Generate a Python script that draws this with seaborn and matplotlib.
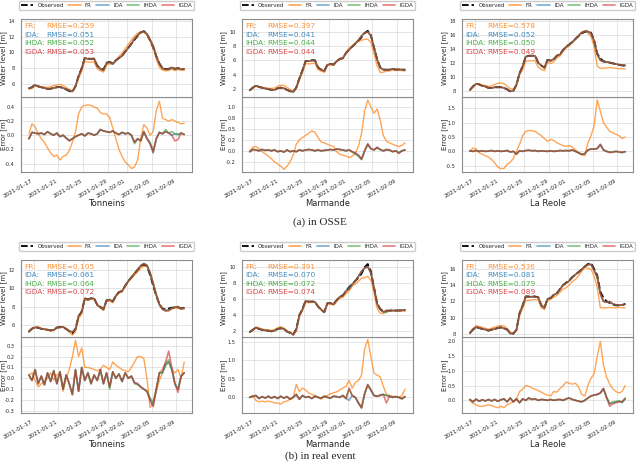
import numpy as np
import pandas as pd
import seaborn as sns
import matplotlib.pyplot as plt
import matplotlib.dates as mdates
from matplotlib.ticker import MultipleLocator, FormatStrFormatter
from matplotlib.lines import Line2D

#%% style
sns.set_style("whitegrid", {'axes.edgecolor': '0.55', 'grid.color': '0.88'})
plt.rcParams['font.family'] = ['DejaVu Sans']
plt.rcParams['axes.unicode_minus'] = False

#%% data (12-hourly samples)
times = pd.date_range('2021-01-16 06:00', periods=51, freq='12h')
models = ['FR', 'IDA', 'IHDA', 'IGDA']
colors = {'FR': '#ff7f0e', 'IDA': '#1f77b4', 'IHDA': '#2ca02c', 'IGDA': '#d62728'}

# ---- OSSE ----
tonneins_osse_obs = [5.4, 5.6, 5.9, 5.7, 5.6, 5.5, 5.4, 5.4, 5.5, 5.6, 5.6, 5.5, 5.3, 5.1, 5.0, 5.7, 7.0, 8.0, 9.3, 9.2,
                     9.2, 9.2, 8.3, 8.0, 7.8, 8.7, 8.8, 8.6, 9.0, 9.3, 9.6, 10.1, 10.6, 11.1, 11.6, 12.1, 12.5, 12.7, 12.3, 11.5,
                     10.6, 9.5, 8.6, 8.0, 7.9, 7.9, 8.1, 7.9, 8.0, 7.9, 7.9]
tonneins_osse_fr = [0.02, 0.16, 0.12, 0.02, -0.05, -0.1, -0.18, -0.25, -0.3, -0.28, -0.35, -0.3, -0.28, -0.22, -0.1, 0.05, 0.3, 0.4, 0.42, 0.43,
                    0.42, 0.4, 0.38, 0.32, 0.3, 0.3, 0.25, 0.1, -0.05, -0.2, -0.3, -0.38, -0.42, -0.47, -0.45, -0.35, -0.05, 0.15, 0.1, 0.0,
                    0.05, 0.35, 0.48, 0.24, 0.22, 0.2, 0.22, 0.2, 0.18, 0.16, 0.17]
tonneins_osse_ida = [-0.05, 0.04, 0.03, 0.02, 0.03, 0.01, 0.05, 0.02, 0.0, 0.03, -0.02, 0.0, -0.04, -0.08, -0.05, -0.02, 0.0, 0.02, -0.01, 0.03,
                     0.02, 0.0, 0.02, 0.08, 0.06, 0.05, 0.04, 0.06, 0.03, 0.01, 0.04, 0.02, 0.03, 0.0, -0.1, -0.05, -0.08, 0.05, -0.05, -0.12,
                     -0.25, -0.05, 0.04, 0.02, 0.05, 0.03, 0.0, 0.02, 0.01, 0.03, 0.01]
tonneins_osse_ihda = [-0.05, 0.04, 0.03, 0.02, 0.03, 0.01, 0.05, 0.02, 0.0, 0.03, -0.02, 0.0, -0.04, -0.07, -0.05, -0.02, 0.0, 0.02, -0.01, 0.03,
                      0.02, 0.0, 0.02, 0.08, 0.06, 0.05, 0.04, 0.06, 0.03, 0.01, 0.04, 0.02, 0.03, 0.0, -0.12, -0.05, -0.08, 0.05, -0.04, -0.1,
                      -0.22, -0.05, 0.04, 0.02, 0.08, 0.03, 0.05, 0.02, 0.01, 0.03, 0.01]
tonneins_osse_igda = [-0.05, 0.04, 0.03, 0.02, 0.03, 0.01, 0.05, 0.02, 0.0, 0.03, -0.02, 0.0, -0.04, -0.08, -0.05, -0.02, 0.0, 0.02, -0.01, 0.03,
                      0.02, 0.0, 0.02, 0.08, 0.06, 0.05, 0.04, 0.06, 0.03, 0.01, 0.04, 0.02, 0.03, 0.0, -0.1, -0.05, -0.08, 0.05, -0.05, -0.12,
                      -0.24, -0.05, 0.04, 0.02, 0.05, 0.03, 0.0, -0.08, -0.06, 0.03, 0.01]

marmande_osse_obs = [1.8, 2.2, 2.5, 2.3, 2.2, 2.1, 2.0, 1.9, 1.9, 2.1, 2.2, 2.1, 1.9, 1.7, 1.6, 2.2, 3.5, 4.6, 5.9, 5.9,
                     6.0, 6.0, 5.0, 4.7, 4.5, 5.4, 5.5, 5.4, 5.9, 6.2, 6.3, 7.0, 7.5, 7.9, 8.3, 8.7, 9.2, 9.8, 10.1, 9.5,
                     7.8, 6.2, 5.0, 4.7, 4.7, 4.7, 4.8, 4.7, 4.7, 4.7, 4.7]
marmande_osse_fr = [0.0, 0.08, 0.1, 0.05, -0.02, -0.07, -0.12, -0.18, -0.25, -0.3, -0.35, -0.42, -0.35, -0.25, -0.1, 0.15, 0.25, 0.3, 0.35, 0.4,
                    0.45, 0.42, 0.3, 0.2, 0.18, 0.15, 0.12, 0.1, -0.02, -0.08, -0.1, -0.12, -0.15, -0.12, -0.05, 0.1, 0.4, 0.9, 1.15, 1.0,
                    0.85, 0.95, 0.7, 0.35, 0.22, 0.18, 0.15, 0.12, 0.1, 0.12, 0.18]
marmande_osse_ida = [-0.02, 0.03, 0.02, 0.0, 0.03, 0.01, 0.02, 0.0, 0.02, -0.02, 0.0, -0.03, 0.02, -0.02, 0.0, -0.02, 0.02, 0.0, 0.02, 0.03,
                     0.02, 0.0, 0.02, 0.0, 0.01, 0.02, 0.03, 0.02, 0.04, 0.03, 0.02, 0.0, 0.02, -0.02, -0.05, -0.1, -0.18, 0.0, 0.15, 0.05,
                     0.02, 0.08, 0.03, 0.0, 0.02, 0.02, -0.02, 0.0, -0.05, 0.0, 0.02]
marmande_osse_ihda = [-0.02, 0.03, 0.02, 0.0, 0.03, 0.01, 0.02, 0.0, 0.02, -0.02, 0.0, -0.03, 0.02, -0.02, 0.0, -0.02, 0.02, 0.0, 0.02, 0.03,
                      0.02, 0.0, 0.02, 0.0, 0.01, 0.02, 0.03, 0.02, 0.04, 0.03, 0.02, 0.0, 0.02, -0.03, -0.08, -0.12, -0.2, 0.0, 0.14, 0.05,
                      0.02, 0.06, 0.03, 0.0, 0.04, 0.02, -0.02, 0.0, -0.04, 0.0, 0.02]
marmande_osse_igda = [-0.02, 0.03, 0.02, 0.0, 0.03, 0.01, 0.02, 0.0, 0.02, -0.02, 0.0, -0.03, 0.02, -0.02, 0.0, -0.02, 0.02, 0.0, 0.02, 0.03,
                      0.02, 0.0, 0.02, 0.0, 0.01, 0.02, 0.03, 0.02, 0.04, 0.03, 0.02, 0.0, 0.02, -0.02, -0.05, -0.1, -0.19, 0.0, 0.16, 0.05,
                      0.02, 0.08, 0.03, 0.0, 0.02, 0.02, -0.02, 0.0, -0.06, 0.0, 0.02]

lareole_osse_obs = [8.1, 8.6, 9.0, 8.9, 8.7, 8.6, 8.4, 8.4, 8.5, 8.5, 8.5, 8.4, 8.2, 7.9, 8.0, 8.8, 10.5, 11.5, 12.9, 13.0,
                    13.0, 13.0, 12.0, 11.6, 11.3, 12.4, 12.3, 12.5, 13.0, 13.2, 13.8, 14.3, 14.6, 15.0, 15.4, 15.8, 16.2, 16.4, 16.5, 16.3,
                    15.2, 13.3, 12.6, 12.2, 12.1, 12.0, 11.9, 11.8, 11.7, 11.6, 11.6]
lareole_osse_fr = [0.0, 0.12, 0.08, -0.05, -0.1, -0.15, -0.2, -0.28, -0.4, -0.55, -0.6, -0.6, -0.45, -0.38, -0.25, 0.0, 0.25, 0.55, 0.7, 0.73,
                   0.72, 0.7, 0.62, 0.55, 0.45, 0.35, 0.42, 0.38, 0.3, 0.25, 0.2, 0.18, 0.2, 0.15, 0.05, -0.05, -0.12, -0.15, 0.3, 0.55,
                   0.9, 1.8, 1.4, 1.0, 0.85, 0.7, 0.65, 0.6, 0.55, 0.45, 0.5]
lareole_osse_ida = [0.02, 0.0, 0.03, 0.0, 0.02, 0.0, 0.01, 0.03, 0.0, 0.02, 0.0, 0.01, 0.03, -0.02, 0.0, -0.1, 0.02, 0.0, 0.03, 0.04,
                    0.02, 0.03, 0.0, 0.02, 0.01, 0.0, 0.02, 0.0, 0.01, 0.03, 0.02, 0.03, 0.02, 0.05, 0.0, -0.05, -0.1, -0.08, 0.05, 0.08,
                    0.08, 0.1, 0.25, 0.05, 0.0, -0.03, -0.02, 0.0, -0.02, -0.05, -0.01]
lareole_osse_ihda = [0.02, 0.0, 0.03, 0.0, 0.02, 0.0, 0.01, 0.03, 0.0, 0.02, 0.0, 0.01, 0.03, -0.02, 0.0, -0.08, 0.02, 0.0, 0.03, 0.04,
                     0.02, 0.03, 0.0, 0.02, 0.01, 0.0, 0.02, 0.0, 0.01, 0.03, 0.02, 0.03, 0.02, 0.05, 0.0, -0.05, -0.1, -0.08, 0.05, 0.08,
                     0.08, 0.1, 0.22, 0.05, 0.0, -0.02, -0.02, 0.0, -0.02, -0.03, -0.01]
lareole_osse_igda = [0.02, 0.0, 0.03, 0.0, 0.02, 0.0, 0.01, 0.03, 0.0, 0.02, 0.0, 0.01, 0.03, -0.02, 0.0, -0.1, 0.02, 0.0, 0.03, 0.04,
                     0.02, 0.03, 0.0, 0.02, 0.01, 0.0, 0.02, 0.0, 0.01, 0.03, 0.02, 0.03, 0.02, 0.05, 0.0, -0.05, -0.11, -0.08, 0.05, 0.08,
                     0.08, 0.1, 0.24, 0.05, 0.0, -0.04, -0.03, 0.0, -0.02, -0.03, -0.01]

# ---- real event ----
tonneins_real_obs = [5.3, 5.6, 5.8, 5.7, 5.6, 5.5, 5.5, 5.4, 5.5, 5.7, 5.8, 5.7, 5.6, 5.3, 5.1, 5.6, 6.9, 7.5, 8.9, 8.8,
                     8.9, 8.9, 8.2, 8.0, 7.7, 8.7, 8.7, 8.6, 9.2, 9.6, 9.7, 10.3, 10.8, 11.2, 11.6, 12.0, 12.4, 12.6, 12.4, 11.5,
                     10.3, 9.2, 8.3, 7.8, 7.7, 7.8, 7.9, 7.9, 7.9, 7.8, 7.9]
tonneins_real_fr = [0.03, 0.05, -0.02, -0.08, -0.05, -0.03, 0.0, 0.05, -0.02, 0.03, 0.05, -0.12, 0.0, 0.08, 0.2, 0.35, 0.2, 0.28, 0.1, 0.1,
                    0.09, 0.08, 0.07, 0.08, 0.12, 0.1, 0.08, 0.15, 0.12, 0.1, 0.08, 0.07, 0.06, 0.1, 0.15, 0.2, 0.2, 0.18, 0.0, -0.27,
                    -0.22, -0.12, -0.02, 0.05, 0.12, 0.15, 0.08, 0.05, 0.08, 0.0, 0.15]
tonneins_real_ida = [0.03, -0.02, 0.08, -0.05, 0.02, -0.06, 0.05, -0.03, 0.07, -0.05, 0.06, -0.1, 0.03, -0.05, -0.15, 0.08, -0.12, 0.1, -0.02, 0.05,
                     -0.05, 0.03, -0.02, 0.08, -0.05, 0.05, -0.08, 0.06, 0.0, 0.04, -0.03, 0.05, 0.0, 0.02, -0.04, -0.05, -0.08, -0.1, -0.12, -0.2,
                     -0.25, -0.1, 0.05, 0.05, 0.12, 0.15, 0.08, -0.05, -0.1, 0.02, 0.05]
tonneins_real_ihda = [0.03, -0.02, 0.08, -0.05, 0.02, -0.06, 0.05, -0.03, 0.07, -0.05, 0.06, -0.1, 0.03, -0.05, -0.15, 0.08, -0.12, 0.1, -0.02, 0.05,
                      -0.05, 0.03, -0.02, 0.08, -0.05, 0.05, -0.1, 0.06, 0.0, 0.04, -0.03, 0.05, 0.0, 0.02, -0.05, -0.06, -0.08, -0.1, -0.12, -0.18,
                      -0.22, -0.1, 0.05, 0.05, 0.14, 0.17, 0.08, -0.05, -0.1, 0.02, 0.05]
tonneins_real_igda = [0.03, -0.02, 0.08, -0.05, 0.02, -0.06, 0.05, -0.03, 0.07, -0.05, 0.06, -0.1, 0.03, -0.05, -0.15, 0.08, -0.12, 0.1, -0.02, 0.05,
                      -0.05, 0.03, -0.02, 0.08, -0.05, 0.05, -0.08, 0.06, 0.0, 0.04, -0.03, 0.05, 0.0, 0.02, -0.04, -0.05, -0.08, -0.1, -0.12, -0.2,
                      -0.26, -0.1, 0.05, 0.08, 0.15, 0.25, 0.1, -0.05, -0.13, 0.02, 0.05]

marmande_real_obs = [1.9, 2.2, 2.5, 2.3, 2.2, 2.1, 2.1, 2.0, 2.1, 2.3, 2.4, 2.3, 2.0, 1.8, 1.6, 2.3, 4.0, 4.8, 5.8, 5.7,
                     5.7, 5.7, 5.1, 4.7, 4.4, 5.5, 5.5, 5.4, 5.9, 6.3, 6.5, 7.0, 7.5, 7.9, 8.3, 8.7, 9.2, 10.0, 10.4, 9.5,
                     7.5, 5.5, 4.8, 4.5, 4.5, 4.6, 4.6, 4.6, 4.6, 4.6, 4.7]
marmande_real_fr = [0.0, 0.05, -0.08, -0.12, -0.1, -0.12, -0.1, -0.12, -0.15, -0.15, -0.18, -0.12, -0.1, -0.05, 0.0, 0.35, 0.15, 0.25, 0.2, 0.12,
                    0.08, 0.05, 0.0, -0.05, 0.02, 0.05, 0.1, 0.12, 0.15, 0.2, 0.25, 0.3, 0.45, 0.25, 0.4, 0.45, 0.6, 1.3, 1.55, 1.1,
                    0.65, 0.6, 0.55, 0.3, 0.08, 0.05, 0.03, 0.02, 0.0, 0.05, 0.22]
marmande_real_ida = [0.0, 0.03, 0.05, -0.03, 0.02, -0.02, 0.03, -0.02, 0.02, -0.03, 0.03, -0.02, 0.02, -0.05, 0.0, 0.08, -0.05, 0.05, 0.0, 0.02,
                     -0.03, 0.03, 0.0, -0.02, 0.03, 0.0, -0.02, 0.03, 0.02, 0.0, 0.05, -0.03, -0.08, 0.05, 0.0, -0.15, -0.28, 0.1, 0.33, 0.2,
                     0.05, 0.03, 0.05, 0.08, 0.05, 0.03, 0.0, 0.02, 0.0, -0.03, 0.02]
marmande_real_ihda = [0.0, 0.03, 0.05, -0.03, 0.02, -0.02, 0.03, -0.02, 0.02, -0.03, 0.03, -0.02, 0.02, -0.05, 0.0, 0.08, -0.05, 0.05, 0.0, 0.02,
                      -0.03, 0.03, 0.0, -0.02, 0.03, 0.0, -0.02, 0.03, 0.02, 0.0, 0.05, -0.03, 0.22, 0.05, 0.0, -0.15, -0.27, 0.1, 0.33, 0.2,
                      0.05, 0.03, 0.07, 0.08, 0.05, 0.03, 0.0, 0.02, 0.0, -0.05, 0.02]
marmande_real_igda = [0.0, 0.03, 0.05, -0.03, 0.02, -0.02, 0.03, -0.02, 0.02, -0.03, 0.03, -0.02, 0.02, -0.05, 0.0, 0.08, -0.05, 0.05, 0.0, 0.02,
                      -0.03, 0.03, 0.0, -0.02, 0.03, 0.0, -0.02, 0.03, 0.02, 0.0, 0.05, -0.03, 0.25, 0.05, 0.0, -0.15, -0.29, 0.1, 0.35, 0.2,
                      0.05, 0.03, 0.05, 0.08, -0.15, 0.03, 0.0, 0.02, 0.0, -0.03, 0.02]

lareole_real_obs = [8.1, 8.5, 8.85, 8.7, 8.6, 8.5, 8.4, 8.5, 8.6, 8.7, 8.8, 8.7, 8.5, 8.1, 8.0, 8.5, 10.5, 11.5, 12.6, 12.6,
                    12.6, 12.6, 12.5, 11.5, 11.2, 12.3, 12.4, 12.8, 13.0, 13.5, 14.0, 14.3, 14.6, 15.0, 15.3, 15.6, 15.9, 16.3, 16.6, 16.7,
                    16.0, 15.2, 13.2, 12.4, 12.0, 11.8, 11.6, 11.5, 11.5, 11.5, 11.7]
lareole_real_fr = [0.0, -0.1, -0.15, -0.2, -0.2, -0.18, -0.15, -0.18, -0.22, -0.25, -0.2, -0.25, -0.15, -0.1, -0.05, 0.05, 0.3, 0.38, 0.5, 0.48,
                   0.42, 0.38, 0.33, 0.28, 0.22, 0.18, 0.15, 0.3, 0.28, 0.4, 0.5, 0.62, 0.58, 0.55, 0.58, 0.45, 0.2, 0.15, 0.5, 0.75,
                   0.9, 1.5, 2.0, 1.2, 0.8, 0.55, 0.4, 0.3, 0.25, 0.3, 0.5]
lareole_real_ida = [0.03, -0.05, 0.04, -0.03, 0.02, -0.02, 0.03, -0.02, 0.03, -0.03, 0.02, 0.05, -0.05, 0.08, -0.05, 0.05, -0.08, 0.05, 0.0, 0.08,
                    0.03, 0.05, 0.0, 0.03, 0.02, 0.0, 0.03, 0.0, 0.02, 0.03, 0.0, 0.05, 0.08, 0.03, 0.0, -0.03, -0.05, 0.0, 0.08, 0.15,
                    0.18, 0.2, 0.25, 0.4, 0.1, -0.12, -0.08, -0.06, -0.03, -0.08, 0.05]
lareole_real_ihda = [0.03, -0.05, 0.04, -0.03, 0.02, -0.02, 0.03, -0.02, 0.03, -0.03, 0.02, 0.05, -0.05, 0.08, -0.05, 0.05, -0.08, 0.05, 0.0, 0.08,
                     0.03, 0.05, 0.0, 0.03, 0.02, 0.0, 0.03, 0.0, 0.02, 0.03, 0.0, 0.05, 0.08, 0.03, 0.0, -0.03, -0.05, 0.0, 0.08, 0.15,
                     0.18, 0.2, 0.25, 0.4, 0.1, -0.1, -0.06, -0.04, -0.02, -0.05, 0.08]
lareole_real_igda = [0.03, -0.05, 0.04, -0.03, 0.02, -0.02, 0.03, -0.02, 0.03, -0.03, 0.02, 0.05, -0.05, 0.08, -0.05, 0.05, -0.08, 0.05, 0.0, 0.08,
                     0.03, 0.05, 0.0, 0.03, 0.02, 0.0, 0.03, 0.0, 0.02, 0.03, 0.0, 0.05, 0.08, 0.03, 0.0, -0.03, -0.05, 0.0, 0.08, 0.15,
                     0.18, 0.2, 0.25, 0.4, 0.1, -0.2, -0.12, -0.08, -0.05, -0.05, 0.05]

rmse_osse = {'Tonneins': [0.259, 0.051, 0.052, 0.053],
             'Marmande': [0.397, 0.041, 0.044, 0.044],
             'La Reole': [0.578, 0.052, 0.050, 0.049]}
rmse_real = {'Tonneins': [0.105, 0.061, 0.064, 0.072],
             'Marmande': [0.391, 0.070, 0.072, 0.074],
             'La Reole': [0.536, 0.081, 0.079, 0.089]}

# row, col, station, observed, errors, rmse, water-level ylim, error ylim, error tick step
panels = [
    (0, 0, 'Tonneins', tonneins_osse_obs, [tonneins_osse_fr, tonneins_osse_ida, tonneins_osse_ihda, tonneins_osse_igda],
     rmse_osse['Tonneins'], (4.35, 14.2), (-0.52, 0.54), 0.2),
    (0, 1, 'Marmande', marmande_osse_obs, [marmande_osse_fr, marmande_osse_ida, marmande_osse_ihda, marmande_osse_igda],
     rmse_osse['Marmande'], (0.9, 11.7), (-0.48, 1.22), 0.25),
    (0, 2, 'La Reole', lareole_osse_obs, [lareole_osse_fr, lareole_osse_ida, lareole_osse_ihda, lareole_osse_igda],
     rmse_osse['La Reole'], (7.1, 18.2), (-0.72, 1.9), 0.5),
    (1, 0, 'Tonneins', tonneins_real_obs, [tonneins_real_fr, tonneins_real_ida, tonneins_real_ihda, tonneins_real_igda],
     rmse_real['Tonneins'], (4.7, 13.1), (-0.32, 0.38), 0.1),
    (1, 1, 'Marmande', marmande_real_obs, [marmande_real_fr, marmande_real_ida, marmande_real_ihda, marmande_real_igda],
     rmse_real['Marmande'], (1.3, 10.9), (-0.42, 1.62), 0.5),
    (1, 2, 'La Reole', lareole_real_obs, [lareole_real_fr, lareole_real_ida, lareole_real_ihda, lareole_real_igda],
     rmse_real['La Reole'], (7.6, 17.1), (-0.43, 2.15), 0.5),
]

#%% layout
fig = plt.figure(figsize=(6.4, 4.67), dpi=100)
col_left = [0.033, 0.378, 0.722]
width = 0.267
row_boxes = [((0.7923, 0.1664), (0.6317, 0.1606)),
             ((0.2784, 0.1649), (0.1156, 0.1627))]

alphas = {'FR': 0.7, 'IDA': 0.6, 'IHDA': 0.6, 'IGDA': 0.6}
name_txt = ['FR:', 'IDA:', 'IHDA:', 'IGDA:']
text_y = [0.91, 0.80, 0.69, 0.58]

for row, col, station, obs, errs, rmse, wl_lim, err_lim, err_step in panels:
    (wb, wh), (eb, eh) = row_boxes[row]
    ax_err = fig.add_axes([col_left[col], eb, width, eh])
    ax_wl = fig.add_axes([col_left[col], wb, width, wh], sharex=ax_err)

    obs = np.array(obs)
    sns.lineplot(x=times, y=obs, ax=ax_wl, color='black', linestyle='--', lw=1.3)
    for m, err in zip(models, errs):
        err = np.array(err)
        lw = 1.0 if m == 'FR' else 1.2
        sns.lineplot(x=times, y=obs - err, ax=ax_wl, color=colors[m], alpha=alphas[m], lw=lw)
        sns.lineplot(x=times, y=err, ax=ax_err, color=colors[m], alpha=alphas[m], lw=lw)

    ax_wl.set_ylim(*wl_lim)
    ax_err.set_ylim(*err_lim)
    ax_err.yaxis.set_major_locator(MultipleLocator(err_step))
    ax_err.yaxis.set_major_formatter(FormatStrFormatter('%.1f'))
    ax_wl.set_ylabel('Water level [m]', fontsize=5)
    ax_err.set_ylabel('Error [m]', fontsize=5)
    ax_wl.yaxis.set_label_coords(-0.085, 0.5)
    ax_err.yaxis.set_label_coords(-0.085, 0.5)
    ax_wl.set_xlabel(None)
    ax_err.set_xlabel(station, fontsize=6, labelpad=0)
    ax_wl.tick_params(labelbottom=False)
    for a in (ax_wl, ax_err):
        a.tick_params(axis='y', labelsize=3.6, pad=1, colors='0.15')
        a.tick_params(axis='x', labelsize=4.1, pad=1, colors='0.15')
        for s in a.spines.values():
            s.set_linewidth(0.8)
        a.grid(lw=0.6)

    ax_err.xaxis.set_major_locator(mdates.DayLocator(bymonthday=[1, 5, 9, 13, 17, 21, 25, 29]))
    ax_err.xaxis.set_major_formatter(mdates.DateFormatter('%Y-%m-%d'))
    plt.setp(ax_err.get_xticklabels(), rotation=30, ha='right')

    # RMSE annotations
    for k, m in enumerate(models):
        ax_wl.text(0.018, text_y[k], name_txt[k], transform=ax_wl.transAxes, color=colors[m],
                   alpha=0.85, fontsize=5.3, va='center')
        ax_wl.text(0.148, text_y[k], f'RMSE={rmse[k]:.3f}', transform=ax_wl.transAxes, color=colors[m],
                   alpha=0.85, fontsize=5.3, va='center')

    handles = [Line2D([], [], color='black', ls='--', lw=1.3)] + \
              [Line2D([], [], color=colors[m], alpha=alphas[m], lw=1.2) for m in models]
    ax_wl.legend(handles, ['Observed'] + models, loc='center', ncol=5, mode='expand',
                 bbox_to_anchor=(-0.03, 1.13, 1.06, 0.1), fontsize=4, frameon=True,
                 handlelength=2.2, handletextpad=0.8, borderpad=0.35, edgecolor='0.8',
                 framealpha=1)

fig.text(0.5, 1 - 222 / 467, '(a) in OSSE', ha='center', va='center',
         family='Liberation Serif', fontsize=8)
fig.text(0.5, 1 - 456 / 467, '(b) in real event', ha='center', va='center',
         family='Liberation Serif', fontsize=8)

plt.savefig('out.png', dpi=100)
